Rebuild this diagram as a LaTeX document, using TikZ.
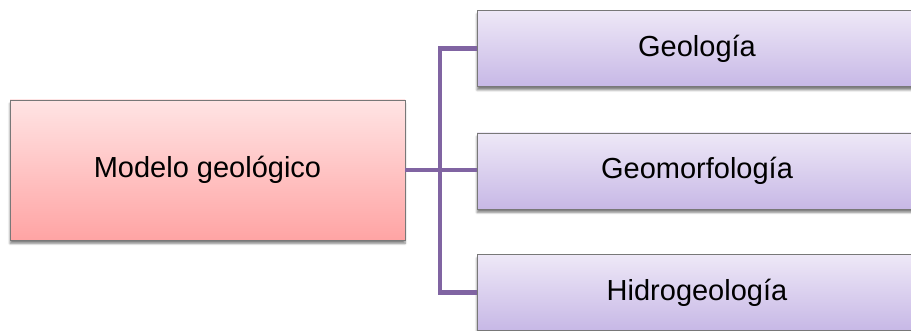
\documentclass[tikz,border=0pt]{standalone}
\usepackage{fontspec}
\setmainfont{Liberation Sans}
\usetikzlibrary{shadows.blur}
\definecolor{pinktop}{RGB}{255,228,228}
\definecolor{pinkbot}{RGB}{255,164,164}
\definecolor{lilactop}{RGB}{238,232,247}
\definecolor{lilacbot}{RGB}{199,184,230}
\definecolor{linkpurple}{RGB}{128,100,162}
\definecolor{edgegray}{RGB}{120,120,120}
\tikzset{
  boxbase/.style={rectangle, draw=edgegray, line width=0.9pt, inner sep=0pt,
    font=\fontsize{29}{34}\selectfont,
    blur shadow={shadow xshift=0pt, shadow yshift=-3.5pt, shadow blur steps=6, shadow opacity=50}},
  rootbox/.style={boxbase, top color=pinktop, bottom color=pinkbot,
    minimum width=395pt, minimum height=140pt},
  leafbox/.style={boxbase, top color=lilactop, bottom color=lilacbot,
    minimum width=440pt, minimum height=76pt},
  link/.style={draw=linkpurple, line width=4.2pt}
}
\begin{document}
\begin{tikzpicture}[x=1pt, y=-1pt]
  \useasboundingbox (0,0) rectangle (911,331);
  \coordinate (j) at (440,170);
  \node[rootbox] (root) at (207.5,170) {Modelo geológico};
  \node[leafbox] (geo) at (697,48.5) {Geología};
  \node[leafbox] (geom) at (697,171) {Geomorfología};
  \node[leafbox] (hidro) at (697,292.5) {Hidrogeología};
  % branch lines joining the root box to the three boxes on the right
  \draw[link] (root.east) -- (j) -- (j -| geom.west);
  \draw[link] (geo.west) -| (j) |- (hidro.west);
\end{tikzpicture}
\end{document}
